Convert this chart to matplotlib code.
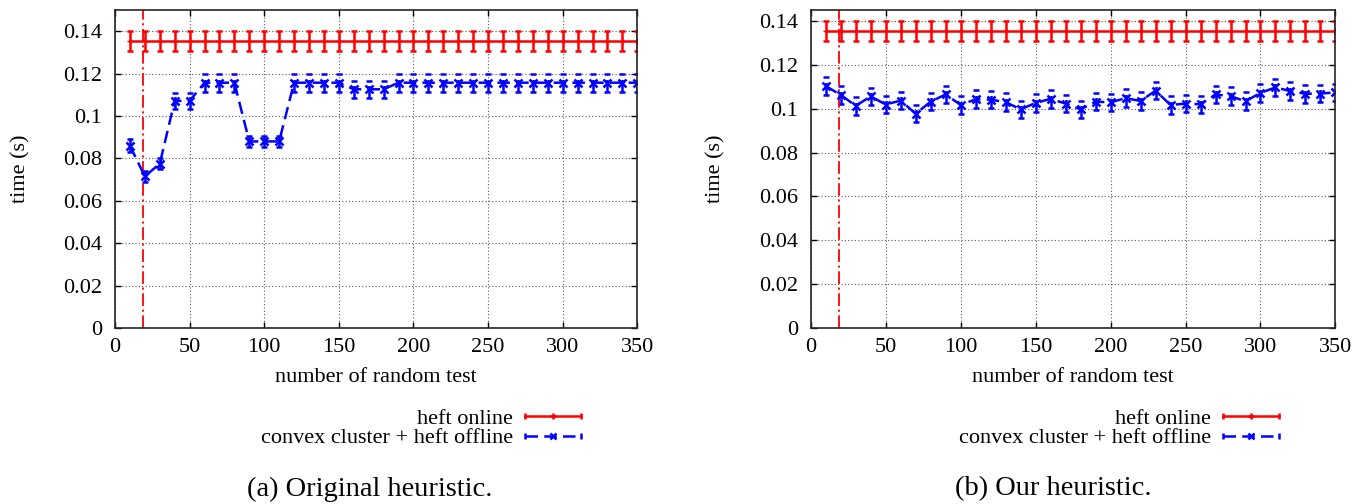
import numpy as np
import matplotlib
matplotlib.use('Agg')
import matplotlib.pyplot as plt
from matplotlib.lines import Line2D
from matplotlib.ticker import FuncFormatter

plt.rcParams['font.family'] = ['Liberation Serif', 'DejaVu Serif']

# number of random tests
tests = [10, 20, 30, 40, 50, 60, 70, 80, 90, 100, 110, 120, 130, 140, 150, 160, 170, 180,
         190, 200, 210, 220, 230, 240, 250, 260, 270, 280, 290, 300, 310, 320, 330, 340, 350]

# heft online (same in both panels)
online_mean = [0.1355] * 35
online_err = [0.0047] * 35

# (a) original heuristic: convex cluster + heft offline
orig_mean = [0.0860, 0.0715, 0.0775, 0.1071, 0.1071, 0.1157, 0.1157, 0.1157, 0.0880, 0.0880,
             0.0880, 0.1157, 0.1157, 0.1157, 0.1157, 0.1126, 0.1126, 0.1126, 0.1157, 0.1157,
             0.1157, 0.1157, 0.1157, 0.1157, 0.1157, 0.1157, 0.1157, 0.1157, 0.1157, 0.1157,
             0.1157, 0.1157, 0.1157, 0.1157, 0.1157]
orig_err = [0.0032, 0.0026, 0.0027, 0.0039, 0.0039, 0.0042, 0.0042, 0.0042, 0.0027, 0.0027,
            0.0027, 0.0042, 0.0042, 0.0042, 0.0042, 0.0040, 0.0040, 0.0040, 0.0042, 0.0042,
            0.0042, 0.0042, 0.0042, 0.0042, 0.0042, 0.0042, 0.0042, 0.0042, 0.0042, 0.0042,
            0.0042, 0.0042, 0.0042, 0.0042, 0.0042]

# (b) our heuristic
ours_mean = [0.1103, 0.1063, 0.1013, 0.1056, 0.1019, 0.1037, 0.0977, 0.1032, 0.1065, 0.1017,
             0.1043, 0.1041, 0.1030, 0.0997, 0.1026, 0.1045, 0.1023, 0.0997, 0.1032, 0.1029,
             0.1048, 0.1035, 0.1082, 0.1017, 0.1023, 0.1020, 0.1065, 0.1057, 0.1034, 0.1072,
             0.1097, 0.1080, 0.1068, 0.1069, 0.1074]
ours_err = [0.0040] * 35

marker_line = 19

FS = 16
LW = 1.8
DASH = (0, (5, 2.5))


class ErrHandler:
    def __init__(self, mid_marker):
        self.mid_marker = mid_marker

    def legend_artist(self, legend, orig_handle, fontsize, handlebox):
        src = orig_handle[0]
        x0, y0 = handlebox.xdescent, handlebox.ydescent
        w, h = handlebox.width, handlebox.height
        ym = y0 + h / 2
        tr = handlebox.get_transform()
        c = src.get_color()
        line = Line2D([x0, x0 + w], [ym, ym], color=c, lw=LW, transform=tr)
        if c == 'blue':
            line.set_dashes((5, 2.5))
        caps = Line2D([x0, x0 + w], [ym, ym], ls='none', marker='|', ms=5, mew=LW,
                      color=c, transform=tr)
        mid = Line2D([x0 + w / 2], [ym], ls='none', marker=self.mid_marker, ms=5, mew=LW,
                     color=c, transform=tr)
        handlebox.add_artist(line)
        handlebox.add_artist(caps)
        handlebox.add_artist(mid)
        return line


def draw_panel(ax, mean, err, ytop):
    red = ax.errorbar(tests, online_mean, yerr=online_err, color='red', lw=LW,
                      marker='+', ms=5, capsize=2.5, capthick=LW, elinewidth=LW)
    blue = ax.errorbar(tests, mean, yerr=err, color='blue', lw=LW, ls='-',
                       marker='x', ms=5.5, mew=LW, capsize=2.5, capthick=LW, elinewidth=LW)
    blue[0].set_dashes((5, 2.5))
    blue[2][0].set_linestyle(DASH)
    ax.axvline(marker_line, color='red', lw=1.3, ls=(0, (7, 2, 1.2, 2)))

    ax.set_xlim(0, 350)
    ax.set_ylim(0, ytop)
    ax.set_xticks(np.arange(0, 351, 50))
    ax.set_yticks(np.arange(0, 0.141, 0.02))
    ax.yaxis.set_major_formatter(FuncFormatter(lambda v, p: '%g' % round(v, 3)))
    ax.tick_params(direction='in', top=True, right=True, length=4, width=1,
                   labelsize=FS)
    ax.tick_params(axis='y', pad=9)
    ax.tick_params(axis='x', pad=7)
    ax.grid(True, color='0.35', lw=0.8, ls=(0, (1, 2)))
    ax.set_axisbelow(True)
    for s in ax.spines.values():
        s.set_linewidth(1.2)
        s.set_color('0.15')

    ax.set_xlabel('number of random test', fontsize=FS)
    ax.set_ylabel('time (s)', fontsize=FS)
    ax.xaxis.set_label_coords(0.5, -0.125)
    ax.yaxis.set_label_coords(-0.162, 0.5)

    ax.legend([red, blue], ['heft online', 'convex cluster + heft offline'],
              handler_map={red: ErrHandler('+'), blue: ErrHandler('x')},
              loc='center right', bbox_to_anchor=(0.892, -0.316), frameon=False,
              fontsize=FS, markerfirst=False, handlelength=2.5, handletextpad=0.55,
              labelspacing=-0.05, borderpad=0, borderaxespad=0)


fig = plt.figure(figsize=(13.69, 5.04), dpi=100)
ax1 = fig.add_axes([0.0840, 0.3492, 0.3815, 0.6310])
ax2 = fig.add_axes([0.5922, 0.3492, 0.3833, 0.6310])

draw_panel(ax1, orig_mean, orig_err, 0.15)
draw_panel(ax2, ours_mean, ours_err, 0.145)

fig.text(370 / 1369, 1 - 489 / 504, '(a) Original heuristic.', ha='center', va='center',
         fontsize=20.5)
fig.text(1053 / 1369, 1 - 489 / 504, '(b) Our heuristic.', ha='center', va='center',
         fontsize=20.5)

plt.savefig('out.png', dpi=100)
